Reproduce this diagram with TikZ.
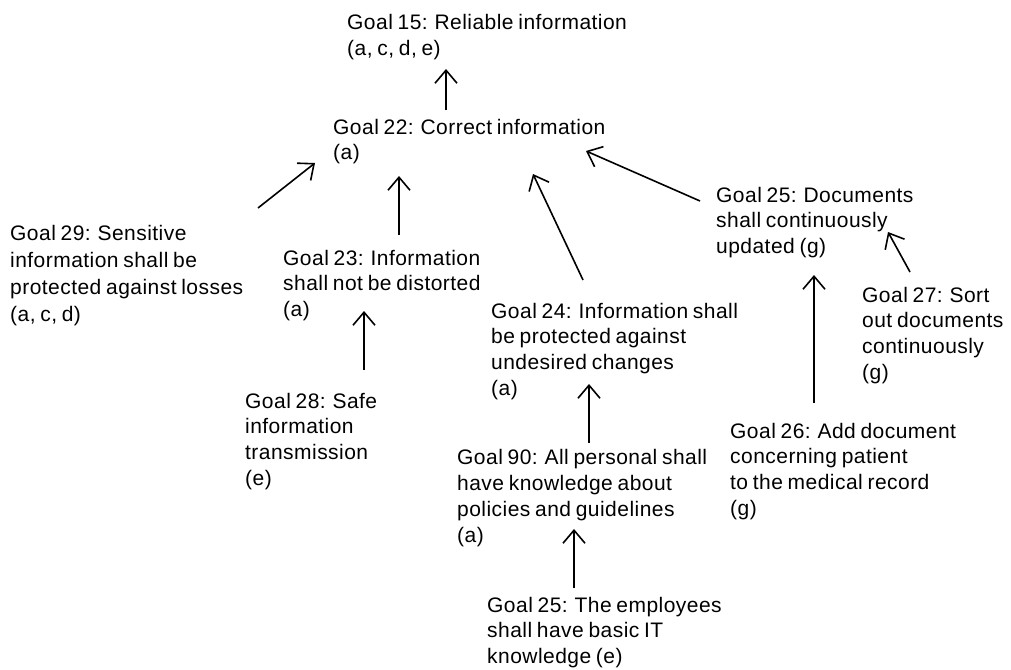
\documentclass[tikz,border=0pt]{standalone}
\usepackage{fontspec}
\setmainfont{Liberation Sans}[LetterSpace=2.2,WordSpace=0.75]
\usetikzlibrary{arrows.meta}
% each goal node is anchored at the baseline of its last line
\tikzset{
  goal/.style={anchor=base west, inner sep=0pt, align=left,
    font=\fontsize{21}{25.8}\selectfont},
  link/.style={line width=1.6pt,
    -{Straight Barb[length=13pt,width=22pt,line width=1.6pt]}}
}
\begin{document}
\begin{tikzpicture}[x=1pt,y=-1pt]
\useasboundingbox (0,0) rectangle (1011,669);

% goal texts
\node[goal] (g15) at (347,55.8) {Goal 15: Reliable information\\(a, c, d, e)};
\node[goal] (g22) at (333,159.8) {Goal 22: Correct information\\(a)};
\node[goal, font=\fontsize{21}{27.3}\selectfont] (g29) at (10,321.9)
  {Goal 29: Sensitive\\information shall be\\protected against losses\\(a, c, d)};
\node[goal] (g23) at (283,316.6) {Goal 23: Information\\shall not be distorted\\(a)};
\node[goal] (g28) at (245,485.4) {Goal 28: Safe\\information\\transmission\\(e)};
\node[goal] (g24) at (491,395.4) {Goal 24: Information shall\\be protected against\\undesired changes\\(a)};
\node[goal] (g90) at (457,542) {Goal 90: All personal shall\\have knowledge about\\policies and guidelines\\(a)};
\node[goal] (g25e) at (487,663.6) {Goal 25: The employees\\shall have basic IT\\knowledge (e)};
\node[goal] (g25d) at (716,253.6) {Goal 25: Documents\\shall continuously\\updated (g)};
\node[goal] (g27) at (862,379.4) {Goal 27: Sort\\out documents\\continuously\\(g)};
\node[goal] (g26) at (730,515.4) {Goal 26: Add document\\concerning patient\\to the medical record\\(g)};

% connector end points
\coordinate (g22out) at (446,110);  \coordinate (g15in) at (446,69);
\coordinate (g29out) at (258,208);  \coordinate (g22inA) at (315,163);
\coordinate (g23out) at (399,235);  \coordinate (g22inB) at (399,176);
\coordinate (g24out) at (583,280);  \coordinate (g22inC) at (533,174);
\coordinate (g25dout) at (700,201); \coordinate (g22inD) at (586,151);
\coordinate (g28out) at (364,370);  \coordinate (g23in) at (364,311);
\coordinate (g90out) at (589,443);  \coordinate (g24in) at (589,384);
\coordinate (g25eout) at (574,588); \coordinate (g90in) at (574,529);
\coordinate (g26out) at (814,403);  \coordinate (g25dinA) at (814,275);
\coordinate (g27out) at (910,272);  \coordinate (g25dinB) at (888,232);

% contribution links
\draw[link] (g22out) -- (g15in);
\draw[link] (g29out) -- (g22inA);
\draw[link] (g23out) -- (g22inB);
\draw[link] (g24out) -- (g22inC);
\draw[link] (g25dout) -- (g22inD);
\draw[link] (g28out) -- (g23in);
\draw[link] (g90out) -- (g24in);
\draw[link] (g25eout) -- (g90in);
\draw[link] (g26out) -- (g25dinA);
\draw[link] (g27out) -- (g25dinB);
\end{tikzpicture}
\end{document}
